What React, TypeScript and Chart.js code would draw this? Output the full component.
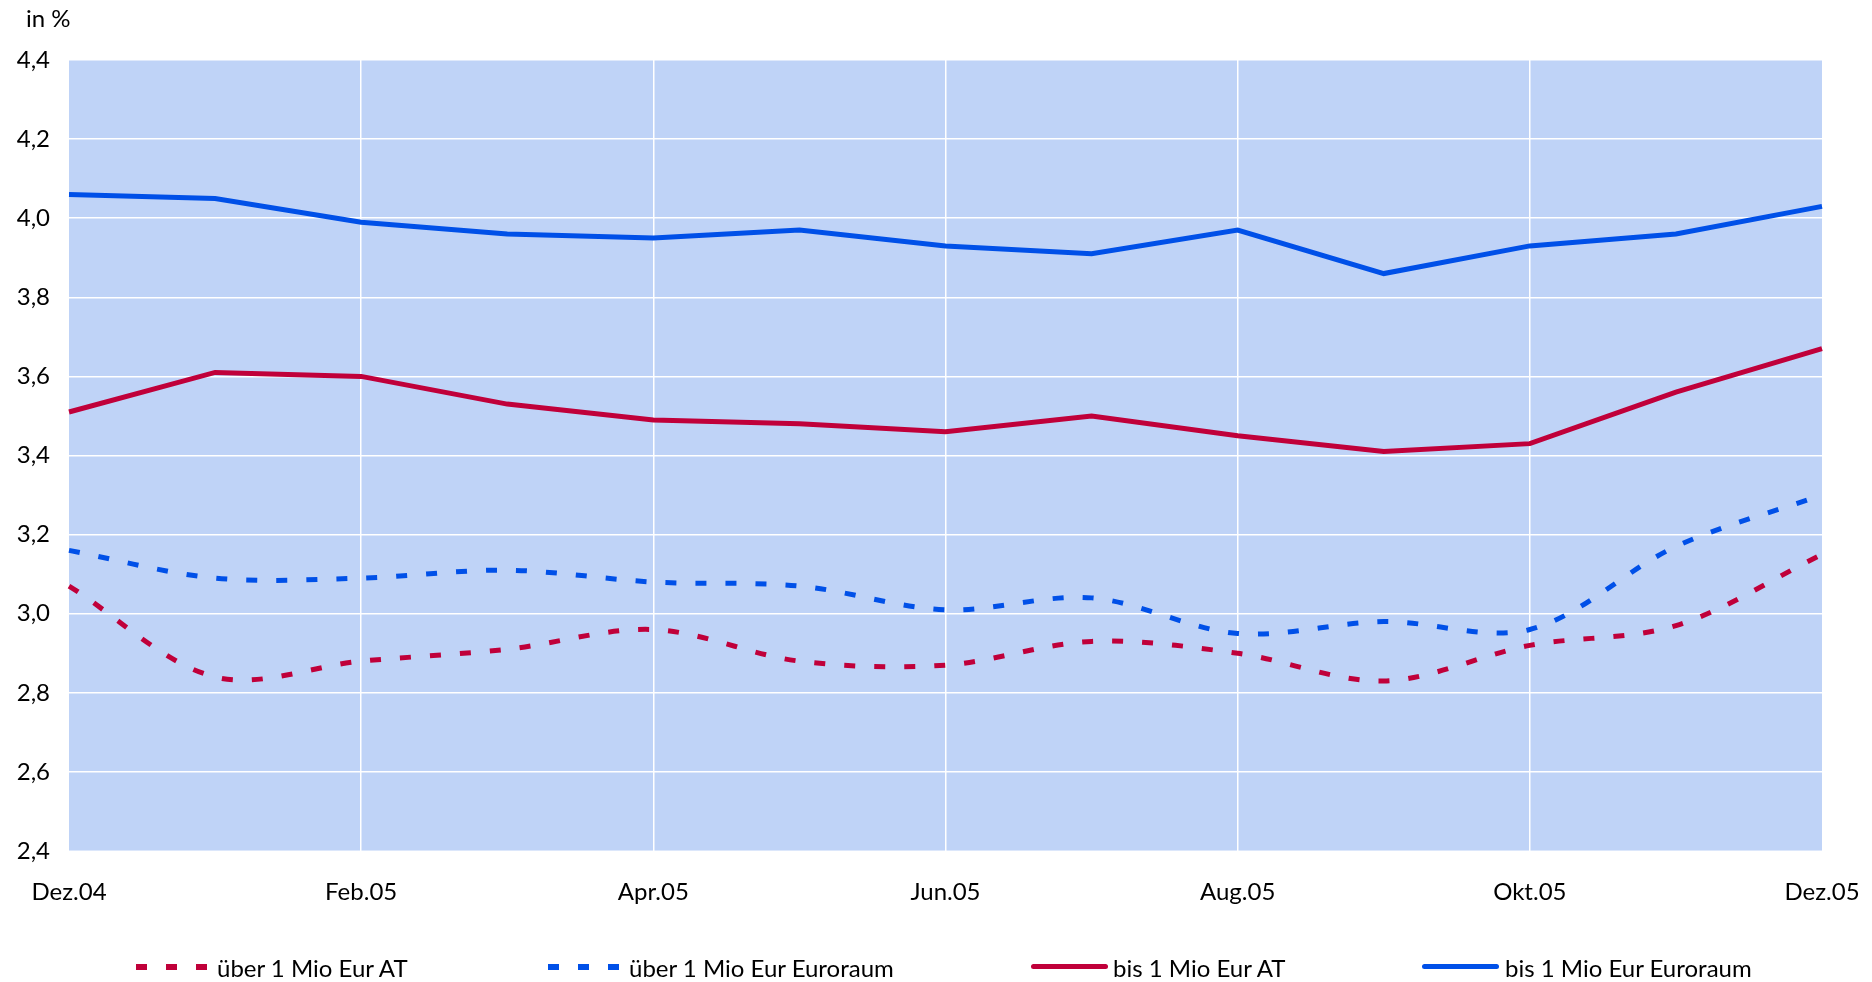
import React, { useEffect, useRef } from "react";
import { Chart, registerables } from "chart.js";

Chart.register(...registerables);

const categories = [
  "Dez.04", "Jan.05", "Feb.05", "Mär.05", "Apr.05", "Mai.05", "Jun.05",
  "Jul.05", "Aug.05", "Sep.05", "Okt.05", "Nov.05", "Dez.05",
];

const seriesNames = [
  "über 1 Mio Eur AT",
  "über 1 Mio Eur Euroraum",
  "bis 1 Mio Eur AT",
  "bis 1 Mio Eur Euroraum",
];

const ueberAT = [3.07, 2.84, 2.88, 2.91, 2.96, 2.88, 2.87, 2.93, 2.90, 2.83, 2.92, 2.97, 3.15];
const ueberEuro = [3.16, 3.09, 3.09, 3.11, 3.08, 3.07, 3.01, 3.04, 2.95, 2.98, 2.96, 3.17, 3.30];
const bisAT = [3.51, 3.61, 3.60, 3.53, 3.49, 3.48, 3.46, 3.50, 3.45, 3.41, 3.43, 3.56, 3.67];
const bisEuro = [4.06, 4.05, 3.99, 3.96, 3.95, 3.97, 3.93, 3.91, 3.97, 3.86, 3.93, 3.96, 4.03];

const yMin = 2.4;
const yMax = 4.4;
const yStep = 0.2;
const yUnit = "in %";

const RED = "#C0003A";
const BLUE = "#0050E8";
const PLOT_BG = "#BFD3F7";
const FONT = "Lato, 'Open Sans', sans-serif";

const plotBackground = {
  id: "plotBackground",
  beforeDraw(chart: any) {
    const { ctx, chartArea } = chart;
    ctx.save();
    ctx.fillStyle = PLOT_BG;
    ctx.fillRect(chartArea.left, chartArea.top, chartArea.right - chartArea.left, chartArea.bottom - chartArea.top);
    ctx.restore();
  },
};

const legendLayout = [
  { sym: 136, text: 217, dashed: true, color: RED },
  { sym: 548, text: 629, dashed: true, color: BLUE },
  { sym: 1031, text: 1113, dashed: false, color: RED },
  { sym: 1422, text: 1505, dashed: false, color: BLUE },
];

export default function App() {
  const canvasRef = useRef<HTMLCanvasElement | null>(null);

  useEffect(() => {
    const canvas = canvasRef.current;
    if (!canvas) return;
    const chart = new Chart(canvas, {
      type: "line",
      data: {
        labels: categories,
        datasets: [
          {
            label: seriesNames[0],
            data: ueberAT,
            borderColor: RED,
            borderWidth: 5,
            borderDash: [11, 19],
            borderCapStyle: "butt",
            tension: 0.33,
            pointRadius: 0,
            fill: false,
          },
          {
            label: seriesNames[1],
            data: ueberEuro,
            borderColor: BLUE,
            borderWidth: 5,
            borderDash: [11, 19],
            borderCapStyle: "butt",
            tension: 0.33,
            pointRadius: 0,
            fill: false,
          },
          {
            label: seriesNames[2],
            data: bisAT,
            borderColor: RED,
            borderWidth: 5,
            tension: 0,
            pointRadius: 0,
            fill: false,
          },
          {
            label: seriesNames[3],
            data: bisEuro,
            borderColor: BLUE,
            borderWidth: 5,
            tension: 0,
            pointRadius: 0,
            fill: false,
          },
        ],
      },
      options: {
        animation: false,
        responsive: false,
        devicePixelRatio: 1,
        layout: { padding: { top: 60, right: 50, left: 0, bottom: 0 } },
        plugins: {
          legend: { display: false },
          tooltip: { enabled: false },
          title: { display: false },
        },
        scales: {
          x: {
            type: "category",
            border: { display: false },
            grid: {
              drawTicks: false,
              lineWidth: 1.5,
              color: (ctx: any) =>
                ctx.index % 2 === 0 && ctx.index > 0 && ctx.index < categories.length - 1
                  ? "#ffffff"
                  : "rgba(0,0,0,0)",
            },
            ticks: {
              autoSkip: false,
              maxRotation: 0,
              minRotation: 0,
              padding: 27,
              color: "#000",
              font: { family: FONT, size: 24 },
              callback: (_v: any, i: number) => (i % 2 === 0 ? categories[i] : ""),
            },
            afterFit: (scale: any) => {
              scale.height = 131;
              scale.paddingLeft = 0;
              scale.paddingRight = 0;
            },
          },
          y: {
            min: yMin,
            max: yMax,
            border: { display: false },
            grid: {
              drawTicks: false,
              lineWidth: 1.5,
              color: (ctx: any) =>
                ctx.index === 0 ? "rgba(255,255,255,0.45)" : "#ffffff",
            },
            ticks: {
              stepSize: yStep,
              padding: 19,
              color: "#000",
              font: { family: FONT, size: 24 },
              callback: (v: any) => Number(v).toFixed(1).replace(".", ","),
            },
            afterFit: (scale: any) => {
              scale.width = 69;
            },
          },
        },
      },
      plugins: [plotBackground],
    });
    return () => chart.destroy();
  }, []);

  return (
    <div
      style={{
        position: "absolute",
        left: 0,
        top: 0,
        width: 1872,
        height: 982,
        background: "#fff",
        fontFamily: FONT,
        overflow: "hidden",
      }}
    >
      <canvas ref={canvasRef} width={1872} height={982} style={{ position: "absolute", left: 0, top: 0 }} />
      <div
        style={{
          position: "absolute",
          left: 26,
          top: 4,
          fontSize: 24,
          lineHeight: "28px",
          color: "#000",
          whiteSpace: "nowrap",
        }}
      >
        {yUnit}
      </div>
      {legendLayout.map((item, i) => (
        <React.Fragment key={i}>
          {item.dashed ? (
            [0, 30, 60].map((dx) => (
              <div
                key={dx}
                style={{
                  position: "absolute",
                  left: item.sym + dx,
                  top: 964,
                  width: 11,
                  height: 6,
                  background: item.color,
                }}
              />
            ))
          ) : (
            <div
              style={{
                position: "absolute",
                left: item.sym,
                top: 964,
                width: 77,
                height: 5,
                borderRadius: 3,
                background: item.color,
              }}
            />
          )}
          <div
            style={{
              position: "absolute",
              left: item.text,
              top: 953,
              fontSize: 24,
              lineHeight: "30px",
              color: "#000",
              whiteSpace: "nowrap",
            }}
          >
            {seriesNames[i]}
          </div>
        </React.Fragment>
      ))}
    </div>
  );
}
